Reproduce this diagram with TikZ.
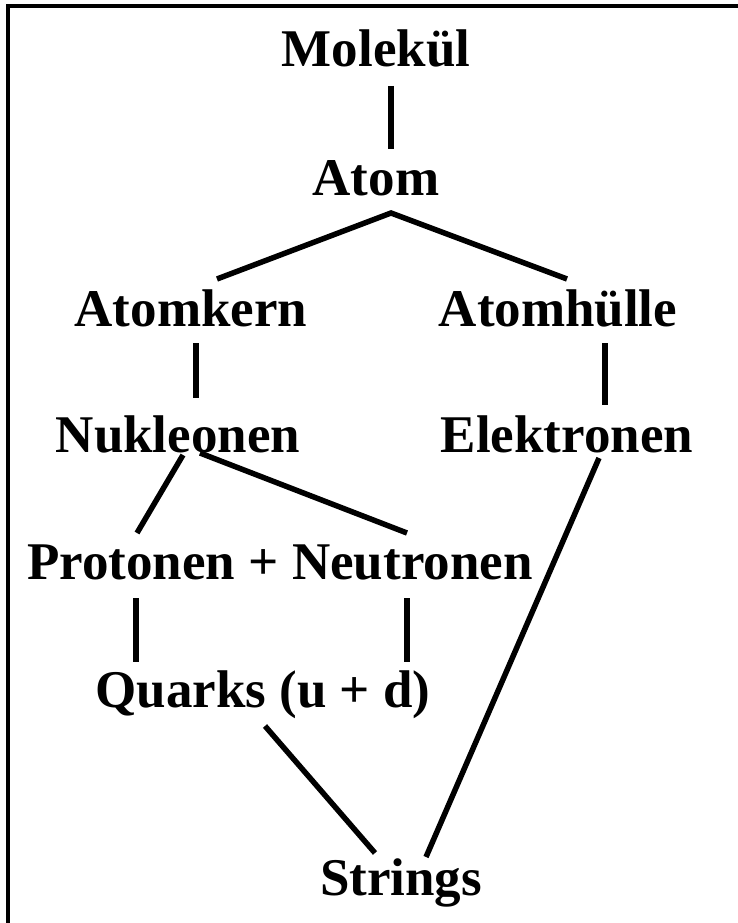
\documentclass[tikz,border=0pt]{standalone}
\usepackage{fontspec}
\setmainfont{Liberation Serif}
\usetikzlibrary{positioning}

\begin{document}
\begin{tikzpicture}[
    x=1pt, y=-1pt,
    lbl/.style={inner sep=0pt, anchor=base,
                font=\fontsize{53}{60}\selectfont\bfseries},
    edge/.style={line width=5.5pt},
  ]
  \useasboundingbox (0,0) rectangle (738,923);
  % frame, runs off the page on the right and at the bottom
  \begin{scope}
    \clip (0,0) rectangle (738,923);
    \draw[line width=4pt] (8,6) rectangle (800,1000);
  \end{scope}
  % levels
  \node[lbl] (mol)    at (376,67)  {Molekül};
  \node[lbl] (atom)   at (376,195) {Atom};
  \node[lbl] (kern)   at (191,326) {Atomkern};
  \node[lbl] (huelle) at (558,326) {Atomhülle};
  \node[lbl] (nuk)    at (178,452) {Nukleonen};
  \node[lbl] (elek)   at (567,452) {Elektronen};
  \node[lbl] (pn)     at (280,579) {Protonen + Neutronen};
  \node[lbl] (quark)  at (263,707) {Quarks (u + d)};
  \node[lbl] (str)    at (401,895) {Strings};
  % connectors
  \draw[edge] ([shift={(15,19)}]mol.base) -- ([shift={(15,-46)}]atom.base);
  \draw[edge] ([shift={(26,-47)}]kern.base) -- ([shift={(15,18)}]atom.base)
              -- ([shift={(9,-47)}]huelle.base);
  \draw[edge] ([shift={(5,17)}]kern.base) -- ([shift={(18,-54)}]nuk.base);
  \draw[edge] ([shift={(47,17)}]huelle.base) -- ([shift={(38,-47)}]elek.base);
  \draw[edge] ([shift={(5,3)}]nuk.base) -- ([shift={(-143,-46)}]pn.base);
  \draw[edge] ([shift={(22,1)}]nuk.base) -- ([shift={(127,-46)}]pn.base);
  \draw[edge] ([shift={(-144,19)}]pn.base) -- ([shift={(-127,-45)}]quark.base);
  \draw[edge] ([shift={(127,19)}]pn.base) -- ([shift={(144,-45)}]quark.base);
  \draw[edge] ([shift={(32,6)}]elek.base) -- ([shift={(25,-38)}]str.base);
  \draw[edge] ([shift={(2,19)}]quark.base) -- ([shift={(-26,-42)}]str.base);
\end{tikzpicture}
\end{document}
